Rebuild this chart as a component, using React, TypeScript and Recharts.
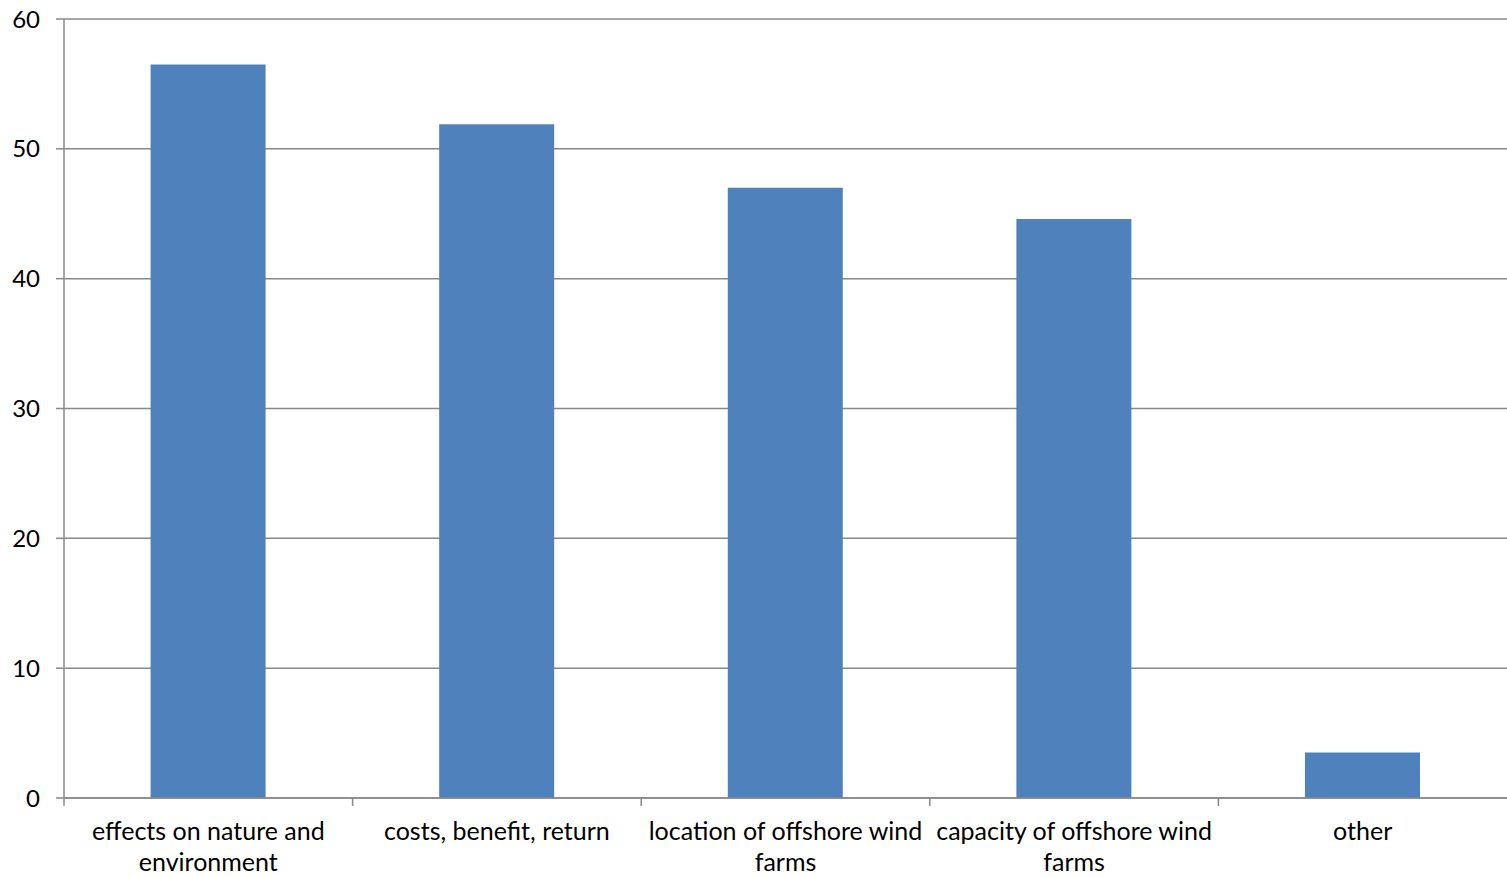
import React from 'react';
import { BarChart, Bar, XAxis, YAxis, CartesianGrid } from 'recharts';

const categories = [
  'effects on nature and\nenvironment',
  'costs, benefit, return',
  'location of offshore wind\nfarms',
  'capacity of offshore wind\nfarms',
  'other',
];
const values = [56.5, 51.9, 47.0, 44.6, 3.5];
const yTicks = [0, 10, 20, 30, 40, 50, 60];

const WIDTH = 1507;
const HEIGHT = 877;
const Y_AXIS_W = 64;
const X_AXIS_H = 79;
const TOP = 19;
const GRAY = '#888888';
const FONT = 'Lato, "Open Sans", sans-serif';

const data = categories.map((name, i) => ({ name, value: values[i] }));

// band width of one category, used to put x tick marks on the boundaries
const BAND = (WIDTH - Y_AXIS_W) / categories.length;

function CategoryTick(props: any) {
  const { x, y, payload } = props;
  const lines = String(payload.value).split('\n');
  const left = x - BAND / 2;
  // y comes in 8px below the axis line (tickSize 6 + tickMargin 2)
  const axisY = y - 8;
  return (
    <g>
      <line x1={left} y1={axisY} x2={left} y2={axisY + 8} stroke={GRAY} strokeWidth={1.5} />
      <text x={x} y={axisY + 42} textAnchor="middle" fill="#000" fontSize={25} fontFamily={FONT}>
        {lines.map((l, i) => (
          <tspan key={i} x={x} dy={i === 0 ? 0 : 31}>
            {l}
          </tspan>
        ))}
      </text>
    </g>
  );
}

export default function App() {
  return (
    <div style={{ position: 'absolute', left: 0, top: 0, background: '#fff' }}>
      <BarChart
        width={WIDTH}
        height={HEIGHT}
        data={data}
        margin={{ top: TOP, right: 0, bottom: 0, left: 0 }}
        barCategoryGap="30%"
      >
        <CartesianGrid vertical={false} stroke={GRAY} strokeWidth={1.5} />
        <XAxis
          dataKey="name"
          height={X_AXIS_H}
          interval={0}
          tickLine={false}
          axisLine={{ stroke: GRAY, strokeWidth: 1.5 }}
          tick={<CategoryTick />}
        />
        <YAxis
          width={Y_AXIS_W}
          domain={[0, 60]}
          ticks={yTicks}
          interval={0}
          tickSize={8}
          tickMargin={16}
          tickLine={{ stroke: GRAY, strokeWidth: 1.5 }}
          axisLine={{ stroke: GRAY, strokeWidth: 1.5 }}
          tick={{ fill: '#000', fontSize: 24, fontFamily: FONT }}
        />
        <Bar dataKey="value" fill="#4F81BD" isAnimationActive={false} />
      </BarChart>
    </div>
  );
}
